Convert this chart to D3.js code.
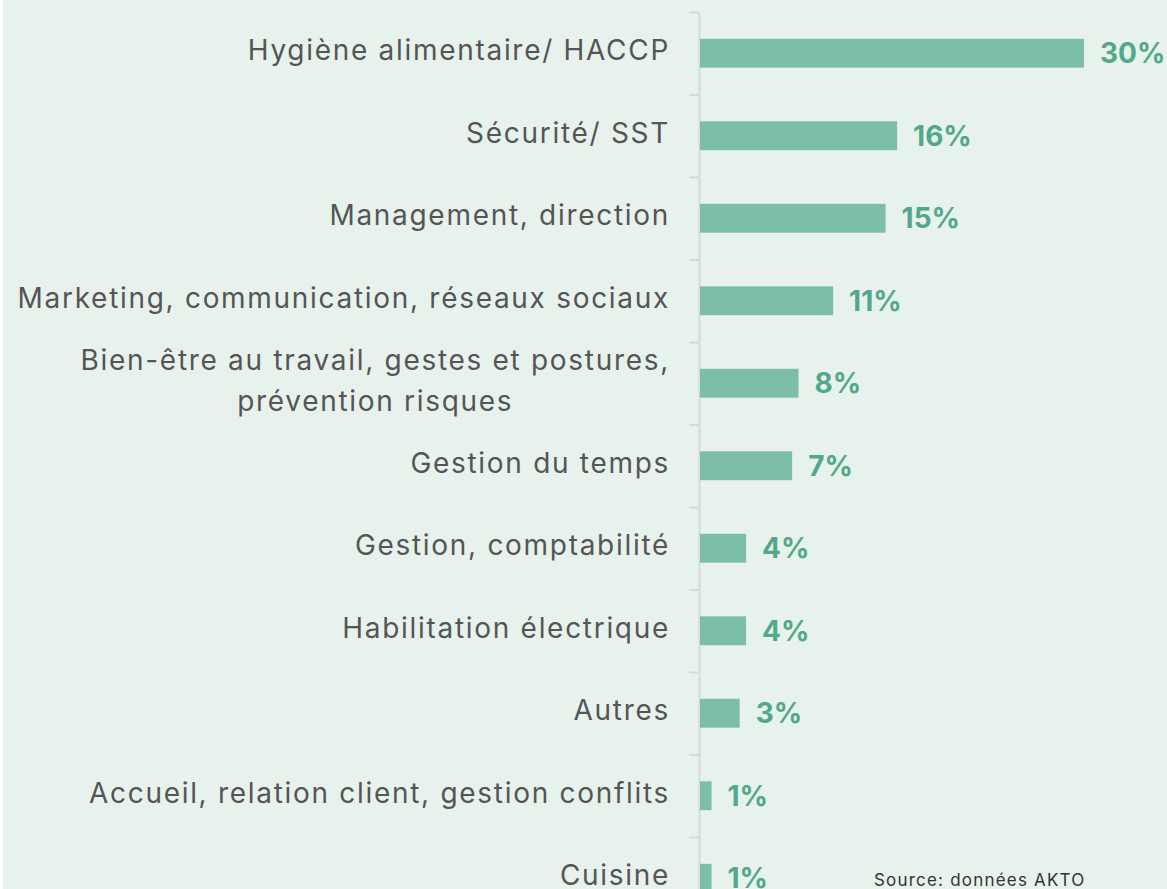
<!DOCTYPE html>
<html>
<head>
<meta charset="utf-8">
<script src="https://cdn.jsdelivr.net/npm/d3@7"></script>
<style>
  body { margin: 0; background: #ffffff; }
  #chart { position: absolute; left: 3px; top: 0; }
</style>
</head>
<body>
<div id="chart"></div>
<script>
// categories and values (percent of trainings)
var categories = [
  "Hygiène alimentaire/ HACCP",
  "Sécurité/ SST",
  "Management, direction",
  "Marketing, communication, réseaux sociaux",
  "Bien-être au travail, gestes et postures,|prévention risques",
  "Gestion du temps",
  "Gestion, comptabilité",
  "Habilitation électrique",
  "Autres",
  "Accueil, relation client, gestion conflits",
  "Cuisine"
];
var values = [30, 15.4, 14.5, 10.4, 7.7, 7.2, 3.6, 3.6, 3.1, 0.9, 0.9];
var valueLabels = ["30%", "16%", "15%", "11%", "8%", "7%", "4%", "4%", "3%", "1%", "1%"];

let svgWidth = 1164;
let svgHeight = 889;
let step = 82.5;
let top0 = 12;
let n = categories.length;
let labelRight = 667;

let svg = d3.select("#chart")
  .append("svg")
  .attr("width", svgWidth)
  .attr("height", svgHeight);

svg.append("rect")
  .attr("width", svgWidth)
  .attr("height", svgHeight)
  .attr("fill", "#e8f2ed");

let y = d3.scaleBand()
  .domain(categories)
  .range([top0, top0 + step * n])
  .paddingInner(0.65)
  .paddingOuter(0.325);

let x = d3.scaleLinear()
  .domain([0, 30])
  .range([697, 1081]);

// axis with ticks between categories
let yEdges = d3.scaleLinear().domain([0, n]).range([top0, top0 + step * n]);
let axis = svg.append("g")
  .attr("transform", "translate(696,0)")
  .call(d3.axisLeft(yEdges).tickValues(d3.range(n + 1)).tickSize(10).tickSizeOuter(0).tickFormat(""));
axis.select(".domain").attr("stroke", "#d6dad7").attr("stroke-width", 2);
axis.selectAll(".tick line").attr("stroke", "#d6dad7").attr("stroke-width", 2);

// bars
svg.selectAll("rect.bar")
  .data(categories)
  .enter()
  .append("rect")
  .attr("class", "bar")
  .attr("x", x(0))
  .attr("y", d => y(d))
  .attr("width", (d, i) => x(values[i]) - x(0))
  .attr("height", y.bandwidth())
  .attr("fill", "#7cbeaa");

// value labels
svg.selectAll("text.val")
  .data(categories)
  .enter()
  .append("text")
  .attr("class", "val")
  .attr("x", (d, i) => x(values[i]) + 16)
  .attr("y", d => y(d) + y.bandwidth() / 2)
  .attr("dy", "0.36em")
  .attr("font-family", "Inter, sans-serif")
  .attr("font-weight", "bold")
  .attr("font-size", 28)
  .attr("fill", "#52a88a")
  .text((d, i) => valueLabels[i]);

// category labels
let labels = svg.selectAll("text.cat")
  .data(categories)
  .enter()
  .append("text")
  .attr("class", "cat")
  .attr("text-anchor", "end")
  .attr("font-family", "Inter, sans-serif")
  .attr("font-size", 28)
  .attr("letter-spacing", 1.7)
  .attr("fill", "#555555")
  .attr("y", d => y(d) + y.bandwidth() / 2 - 3);

labels.each(function(d) {
  let lines = d.split("|");
  let t = d3.select(this);
  lines.forEach((l, j) => {
    t.append("tspan")
      .attr("x", labelRight)
      .attr("dy", j == 0 ? (0.36 - (lines.length - 1) * 0.73) + "em" : "1.46em")
      .text(l);
  });
  // wrapped labels: lines centred under the first line
  if (lines.length > 1) {
    let w = t.select("tspan").node().getComputedTextLength();
    t.attr("text-anchor", "middle");
    t.selectAll("tspan").attr("x", labelRight - w / 2);
  }
});

svg.append("text")
  .attr("x", 871)
  .attr("y", 886)
  .attr("font-family", "Inter, sans-serif")
  .attr("font-size", 17)
  .attr("letter-spacing", 1.2)
  .attr("fill", "#333333")
  .text("Source: données AKTO");
</script>
</body>
</html>
